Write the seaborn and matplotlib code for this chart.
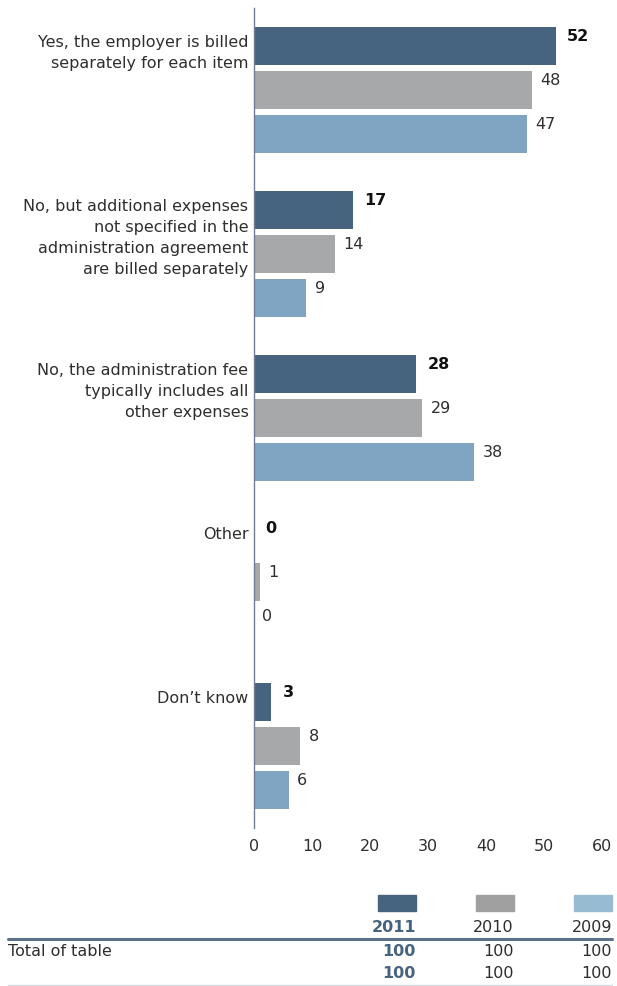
import matplotlib
matplotlib.use("Agg")
import matplotlib.pyplot as plt
import matplotlib.transforms as mtransforms
from matplotlib.lines import Line2D
from matplotlib.patches import Rectangle
import seaborn as sns
import pandas as pd

categories = [
    "Yes, the employer is billed\nseparately for each item",
    "No, but additional expenses\nnot specified in the\nadministration agreement\nare billed separately",
    "No, the administration fee\ntypically includes all\nother expenses",
    "Other",
    "Don\u2019t know",
]
years = ["2011", "2010", "2009"]
v2011 = [52, 17, 28, 0, 3]
v2010 = [48, 14, 29, 1, 8]
v2009 = [47, 9, 38, 0, 6]
totals_label = "Total of table"
totals_row1 = [100, 100, 100]
totals_row2 = [100, 100, 100]
xticks = [0, 10, 20, 30, 40, 50, 60]

bar_colors = {"2011": "#46637F", "2010": "#A7A8AA", "2009": "#80A5C3"}
legend_colors = {"2011": "#46637F", "2010": "#A0A0A0", "2009": "#97BBD0"}

rows = []
for yr, vals in zip(years, [v2011, v2010, v2009]):
    for c, v in zip(categories, vals):
        rows.append({"cat": c, "year": yr, "val": v})
df = pd.DataFrame(rows)

sns.set_theme(style="white")
plt.rcParams["font.family"] = ["DejaVu Sans"]
FS = 11.5
LW = "normal"
TXT = "#2E2E2E"

W, H = 617, 986
fig = plt.figure(figsize=(W / 100, H / 100), dpi=100)
ax = fig.add_axes([254 / W, 1 - 828 / H, (602 - 254) / W, (828 - 8) / H])

sns.barplot(data=df, y="cat", x="val", hue="year", hue_order=years,
            order=categories, palette=bar_colors, orient="h",
            width=0.8, gap=0.14, legend=False, ax=ax, saturation=1,
            linewidth=0)

ax.set_xlim(0, 60)
ax.set_ylim(len(categories) - 0.5, -0.5)
ax.set_xticks(xticks)
ax.set_xticklabels([str(t) for t in xticks], fontsize=FS, color=TXT,
                   fontweight=LW)
ax.tick_params(axis="x", length=0, pad=8)
ax.set_yticks([])
ax.set_xlabel("")
ax.set_ylabel("")
for s in ["top", "right", "bottom"]:
    ax.spines[s].set_visible(False)
ax.spines["left"].set_color("#6F7F90")
ax.spines["left"].set_linewidth(1.0)

# value labels
for yi, cont in enumerate(ax.containers):
    for p in cont.patches:
        w = p.get_width()
        yc = p.get_y() + p.get_height() / 2
        bold = yi == 0
        ax.annotate(f"{w:.0f}", xy=(w, yc), xytext=(6 if not bold else 8, 7),
                    textcoords="offset points", ha="left", va="center",
                    fontsize=FS, color="#111111" if bold else TXT,
                    fontweight="bold" if bold else LW)

# category labels
trans = mtransforms.blended_transform_factory(ax.transAxes, ax.transData)
for i, c in enumerate(categories):
    ax.annotate(c, xy=(0, i - 0.38), xycoords=trans, xytext=(-4, -5),
                textcoords="offset points", ha="right", va="top",
                multialignment="right", fontsize=FS, color=TXT,
                linespacing=1.5, fontweight=LW)

# table / legend below
def fx(px):
    return px / W

def fy(py):
    return 1 - py / H

sw_right = [416, 514, 612]
for yr, xr in zip(years, sw_right):
    fig.patches.append(Rectangle((fx(xr - 38), fy(911)), 38 / W, 16 / H,
                                 transform=fig.transFigure,
                                 color=legend_colors[yr]))
    bold = yr == "2011"
    fig.text(fx(xr), fy(928), yr, ha="right", va="center", fontsize=FS,
             color="#46637F" if bold else TXT,
             fontweight="bold" if bold else LW)

fig.add_artist(Line2D([fx(8), fx(612)], [fy(938.5), fy(938.5)],
                      transform=fig.transFigure, color="#5A7189", lw=2.2))
fig.add_artist(Line2D([fx(8), fx(612)], [fy(985), fy(985)],
                      transform=fig.transFigure, color="#D5D8DC", lw=1.0))
fig.text(fx(8), fy(952), totals_label, ha="left", va="center",
         fontsize=FS, color=TXT, fontweight=LW)
for row, yy in [(totals_row1, 952), (totals_row2, 974)]:
    for k, (v, xr) in enumerate(zip(row, sw_right)):
        bold = k == 0
        fig.text(fx(xr), fy(yy), str(v), ha="right", va="center",
                 fontsize=FS, color="#46637F" if bold else TXT,
                 fontweight="bold" if bold else LW)

fig.savefig("out.png", dpi=100)
